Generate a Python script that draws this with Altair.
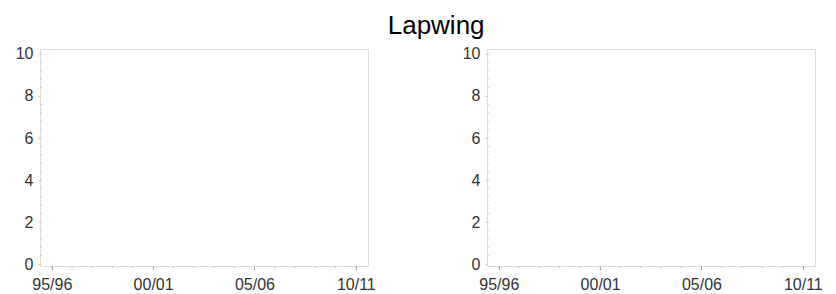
import altair as alt
import pandas as pd

# Data
season_labels = ["95/96", "00/01", "05/06", "10/11"]
season_years = [1995, 2000, 2005, 2010]
minor_years = list(range(1995, 2011))
y_major = [0, 2, 4, 6, 8, 10]
y_minor = [i * 0.4 for i in range(0, 26)]
# No observations plotted in either panel
counts_left = []
counts_right = []

W, H = 328, 217
x_dom = [1994.42, 2010.6]
y_dom = [-0.095, 10.238]

label_expr = " : ".join(
    f"datum.value == {y} ? '{l}'" for y, l in zip(season_years, season_labels)
) + " : ''"

FONT = "Liberation Sans"


def panel(values):
    base_df = pd.DataFrame({"year": season_years, "count": [None] * len(season_years)})
    xs = alt.Scale(domain=x_dom, nice=False, zero=False)
    ys = alt.Scale(domain=y_dom, nice=False, zero=False)
    axes = alt.Chart(base_df).mark_point(opacity=0).encode(
        x=alt.X("year:Q", scale=xs,
                axis=alt.Axis(values=season_years, labelExpr=label_expr, title=None,
                              grid=False, domain=False, tickSize=4, tickColor="#aaa",
                              labelFontSize=16, labelColor="#333", labelFont=FONT,
                              labelPadding=6, labelFlush=False)),
        y=alt.Y("count:Q", scale=ys,
                axis=alt.Axis(values=y_major, title=None, grid=False, domain=False,
                              tickSize=2, tickColor="#ccc", labelFontSize=16,
                              labelColor="#333", labelFont=FONT, labelPadding=5,
                              minExtent=26, maxExtent=26)),
    )
    minx = alt.Chart(pd.DataFrame({"year": minor_years})).mark_rule(
        color="#bbb", strokeWidth=1
    ).encode(x=alt.X("year:Q", scale=xs), y=alt.value(H), y2=alt.value(H + 2))
    miny = alt.Chart(pd.DataFrame({"v": y_minor})).mark_rule(
        color="#ccc", strokeWidth=1
    ).encode(y=alt.Y("v:Q", scale=ys), x=alt.value(0), x2=alt.value(2))
    data_df = pd.DataFrame({"year": [], "count": []}) if not values else pd.DataFrame(values)
    pts = alt.Chart(data_df).mark_line(color="black").encode(
        x=alt.X("year:Q", scale=xs), y=alt.Y("count:Q", scale=ys)
    )
    return alt.layer(axes, minx, miny, pts).properties(width=W, height=H)


chart = alt.hconcat(panel(counts_left), panel(counts_right), spacing=119,
                    bounds="flush").properties(
    title=alt.TitleParams("Lapwing", fontSize=26, font=FONT, fontWeight="normal",
                          anchor="middle", color="black", offset=6, dx=18)
).configure_view(stroke="#e3e3e3", strokeWidth=1).configure(background="white")

chart.save("out.html", embed_options={"renderer": "svg", "actions": False})
